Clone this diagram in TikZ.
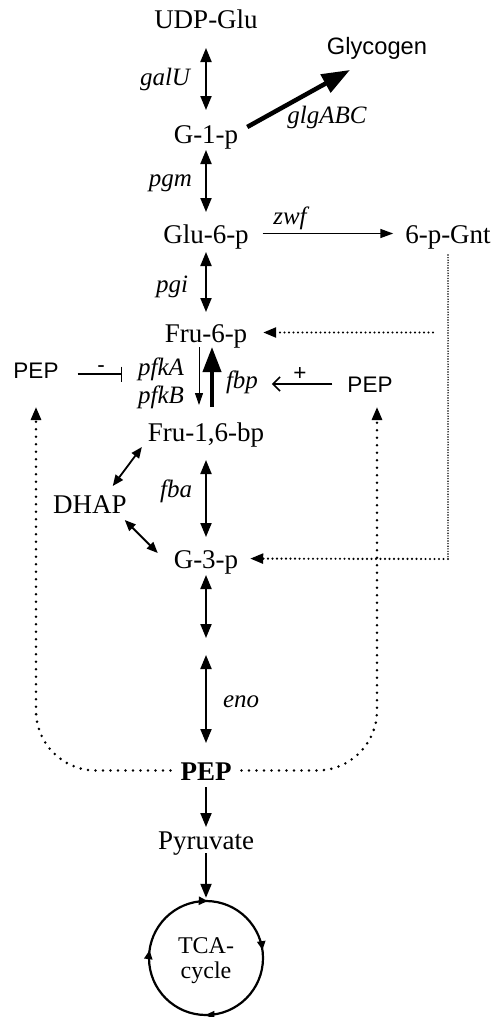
\documentclass[tikz,border=0pt]{standalone}
\usepackage{fontspec}
\setmainfont{Liberation Serif}
\newfontfamily\arialf{Liberation Sans}
\usetikzlibrary{arrows.meta,calc,decorations.markings}
\begin{document}
\begin{tikzpicture}[x=1pt,y=-1pt,
  met/.style={font=\fontsize{27}{30}\selectfont, inner sep=0pt, outer sep=0pt, text height=19pt, text depth=0pt, anchor=base},
  enz/.style={font=\fontsize{25}{28}\selectfont\itshape, inner sep=0pt, outer sep=0pt, text height=17pt, text depth=0pt},
  sans/.style={font=\arialf\fontsize{22.5}{26}\selectfont, inner sep=0pt, outer sep=0pt, text height=16pt, text depth=0pt, anchor=base},
  sign/.style={font=\arialf\fontsize{22.5}{26}\selectfont, inner sep=0pt, outer sep=0pt},
  rev/.style={line width=2pt, {Triangle[length=14pt,width=11pt]}-{Triangle[length=14pt,width=11pt]}},
  revsmall/.style={line width=1.8pt, {Triangle[length=11pt,width=9pt]}-{Triangle[length=11pt,width=9pt]}},
  fwd/.style={line width=2pt, -{Triangle[length=14pt,width=11pt]}},
  bigdots/.style={line width=2.8pt, line cap=round, dash pattern=on 0pt off 7.5pt, -{Triangle[length=13pt,width=10pt]}},
  meddots/.style={line width=2.4pt, line cap=round, dash pattern=on 0pt off 4.5pt},
  finedots/.style={line width=1.6pt, line cap=round, dash pattern=on 0pt off 2.6pt},
]
\useasboundingbox (0,0) rectangle (496,1017);

% metabolites
\node[met] (udp) at (206,28) {UDP-Glu};
\node[met] (g1p) at (206,143) {G-1-p};
\node[met] (glu6) at (206,243) {Glu-6-p};
\node[met] (gnt) at (448,243) {6-p-Gnt};
\node[met] (fru6) at (206,342) {Fru-6-p};
\node[met] (fru16) at (206,441) {Fru-1,6-bp};
\node[met] (dhap) at (90,513) {DHAP};
\node[met] (g3p) at (206,568) {G-3-p};
\node[met, font=\fontsize{27}{30}\selectfont\bfseries] (pepB) at (206,780) {PEP};
\node[met] (pyr) at (206,849) {Pyruvate};
\node[sans, font=\arialf\fontsize{23.7}{27}\selectfont, text height=17pt] (glyc) at (377,54) {Glycogen};
\node[sans] (pepL) at (36,378) {PEP};
\node[sans] (pepR) at (370,392) {PEP};
\node[circle, minimum size=114pt, inner sep=0pt, align=center, font=\fontsize{24}{25}\selectfont] (tca) at (206,961) {TCA-\\cycle};

% enzyme labels
\node[enz, anchor=base east] (galu) at (190,85) {galU};
\node[enz, anchor=base east] (pgm) at (192,186) {pgm};
\node[enz, anchor=base east] (pgi) at (188,292) {pgi};
\node[enz, anchor=base east] (pfka) at (184,375) {pfkA};
\node[enz, anchor=base east] (pfkb) at (184,403) {pfkB};
\node[enz, anchor=base east] (fba) at (192,497) {fba};
\node[enz, anchor=base west] (eno) at (223,707) {eno};
\node[enz, anchor=base] (fbp) at (242,388) {fbp};
\node[enz, anchor=base] (zwf) at (290,224) {zwf};
\node[enz, anchor=base] (glg) at (327,123) {glgABC};
\node[sign] (minus) at (101,369) {-};
\node[sign] (plus) at (300,374) {+};

% named free points
\coordinate (mid) at (206,646.5);
\coordinate (gcorner) at (448,559);
\coordinate (fstart) at (433,332.5);
\coordinate (tcac) at (206,958);

% main chain
\draw[rev, shorten <=20pt, shorten >=14pt] (udp) -- (g1p);
\draw[rev, shorten <=7pt, shorten >=12pt] (g1p) -- (glu6);
\draw[rev, shorten <=9pt, shorten >=11pt] (glu6) -- (fru6);
\draw[line width=1pt, -{Triangle[length=12pt,width=8pt]}, shorten <=5pt, shorten >=17pt] ([xshift=-7pt]fru6.south) -- ([xshift=-7pt]fru16.north);
\draw[line width=4pt, -{Triangle[length=25pt,width=18pt]}, shorten <=15pt, shorten >=5pt] ([xshift=6pt]fru16.north) -- ([xshift=6pt]fru6.south);
\draw[rev, shorten <=19pt, shorten >=12pt] (fru16) -- (g3p);
\draw[rev, shorten <=7pt, shorten >=8.5pt] (g3p) -- (mid);
\draw[rev, shorten <=8.5pt, shorten >=18pt] (mid) -- (pepB);
\draw[fwd, shorten <=7pt, shorten >=3pt] (pepB) -- (pyr);
\draw[fwd, shorten <=4pt, shorten >=6pt] (pyr) -- (tca);

% glycogen
\draw[line width=4.5pt, -{Triangle[length=28pt,width=20pt]}] ([shift={(9,-6.5)}]g1p.east) -- ([shift={(23,16)}]glyc.south west);

% zwf
\draw[line width=1.5pt, -{Triangle[length=13pt,width=9pt]}, shorten <=14pt, shorten >=12pt] (glu6) -- (gnt);

% DHAP
\draw[revsmall] ([shift={(-14,-8)}]dhap.north east) -- ([shift={(-6,6)}]fru16.south west);
\draw[revsmall] ([shift={(-2,7)}]dhap.south east) -- ([shift={(-16,-5.5)}]g3p.west);

% regulation
\draw[line width=1.5pt, -{Bar[width=15pt]}, shorten <=19pt, shorten >=16pt] ($(pepL.east)+(0,4)$) -- ($(pepL.east -| pfka.west)+(0,4)$);
\draw[line width=1.5pt, -{Straight Barb[length=7pt,width=14pt]}, shorten <=15pt, shorten >=14pt] (pepR.west) -- (pepR.west -| fbp.east);

% dotted connectors
\draw[finedots, shorten <=12pt] (gnt) -- (gcorner);
\draw[meddots, -{Triangle[length=13pt,width=10pt]}, shorten >=12pt] (gcorner) -- (g3p);
\draw[meddots, -{Triangle[length=13pt,width=10pt]}, shorten >=16pt] (fstart) -- (fru6);
\draw[bigdots, rounded corners=60pt, shorten <=10pt, shorten >=29pt] (pepB.west) -| (pepL.south);
\draw[bigdots, rounded corners=60pt, shorten <=10pt, shorten >=15pt] (pepB.east) -| ([xshift=7pt]pepR.south);

% TCA cycle ring
\draw[line width=2.2pt, postaction={decorate}, decoration={markings,
  mark=at position 0.022 with {\arrowreversed{Triangle[length=9pt,width=8pt]}},
  mark=at position 0.245 with {\arrowreversed{Triangle[length=9pt,width=8pt]}},
  mark=at position 0.478 with {\arrowreversed{Triangle[length=9pt,width=8pt]}},
  mark=at position 0.748 with {\arrowreversed{Triangle[length=9pt,width=8pt]}}}]
  (tcac) circle[radius=57pt];
\end{tikzpicture}
\end{document}
